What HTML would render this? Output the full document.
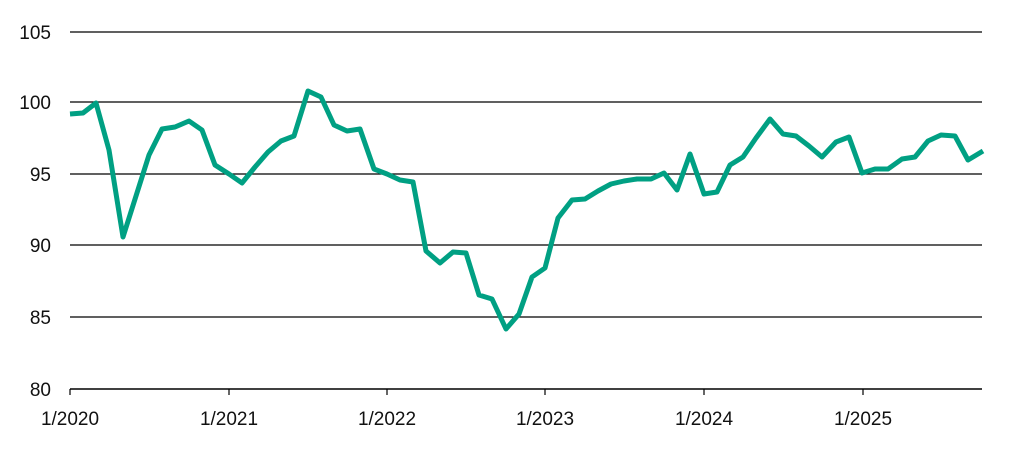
<!DOCTYPE html>
<html><head><meta charset="utf-8"><style>
html,body{margin:0;padding:0;background:#fff;}
svg text{font-family:"Liberation Sans",sans-serif;font-size:19px;fill:#111;}
</style></head><body>
<svg width="1012" height="445" viewBox="0 0 1012 445" xmlns="http://www.w3.org/2000/svg">
<g stroke="#000" stroke-width="1.2">
<line x1="70" y1="32" x2="982" y2="32"/>
<line x1="70" y1="102" x2="982" y2="102"/>
<line x1="70" y1="174" x2="982" y2="174"/>
<line x1="70" y1="245" x2="982" y2="245"/>
<line x1="70" y1="317" x2="982" y2="317"/>
<line x1="70" y1="389" x2="982" y2="389" stroke-width="1.5"/>
<line x1="70" y1="389" x2="70" y2="395"/>
<line x1="229" y1="389" x2="229" y2="395"/>
<line x1="387" y1="389" x2="387" y2="395"/>
<line x1="545" y1="389" x2="545" y2="395"/>
<line x1="704" y1="389" x2="704" y2="395"/>
<line x1="863" y1="389" x2="863" y2="395"/>
</g>
<g text-anchor="end">
<text x="51" y="39">105</text>
<text x="51" y="109">100</text>
<text x="51" y="181">95</text>
<text x="51" y="252">90</text>
<text x="51" y="324">85</text>
<text x="51" y="396">80</text>
</g>
<g text-anchor="middle">
<text x="70" y="425">1/2020</text>
<text x="229" y="425">1/2021</text>
<text x="387" y="425">1/2022</text>
<text x="545" y="425">1/2023</text>
<text x="704" y="425">1/2024</text>
<text x="863" y="425">1/2025</text>
</g>
<polyline fill="none" stroke="#00a083" stroke-width="5" stroke-linejoin="round" points="70,114 83,113 96,103 109,150 123,237 136,196 149,155 162,129 175,127 189,121 202,130 215,165 229,174 242,183 255,167 268,152 281,141 294,136 308,91 321,97 334,125 347,131 360,129 374,169 387,174 400,180 413,182 426,251 440,263 453,252 466,253 479,295 492,299 506,329 519,314 532,277 545,268 558,218 572,200 585,199 598,191 611,184 624,181 637,179 651,179 664,173 677,190 690,154 704,194 717,192 730,165 743,157 756,138 770,119 783,134 796,136 809,146 822,157 836,142 849,137 862,173 875,169 888,169 902,159 915,157 928,141 941,135 955,136 968,160 983,151"/>
</svg>
</body></html>
